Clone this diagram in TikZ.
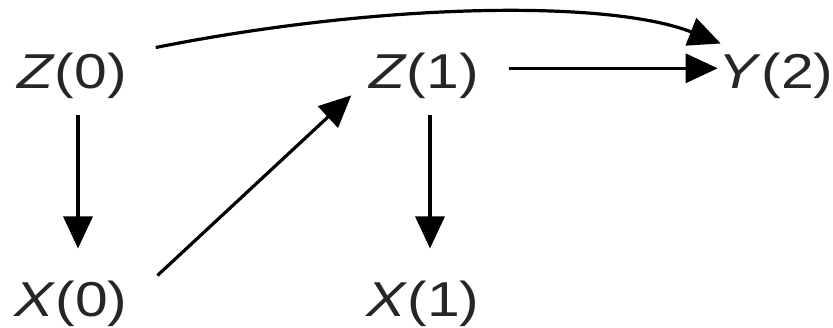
\documentclass[tikz,border=0pt]{standalone}
\usepackage{fontspec}
\newfontfamily\labfont[FakeStretch=1.2]{Liberation Sans}
\usetikzlibrary{arrows.meta,calc}
\begin{document}
\begin{tikzpicture}[x=1pt,y=-1pt,
  var/.style={inner sep=0pt,outer sep=0pt,anchor=base,font=\labfont\fontsize{49}{58}\selectfont,text=black!85},
  arr/.style={line width=3.2pt,-{Triangle[length=32pt,width=29pt]}}]
\useasboundingbox (0,0) rectangle (833,328);
\node[var] (z0) at (72,89) {\textit{Z}(0)};
\node[var] (z1) at (424,89) {\textit{Z}(1)};
\node[var] (y2) at (776,89) {\textit{Y}(2)};
\node[var] (x0) at (71,317) {\textit{X}(0)};
\node[var] (x1) at (423,317) {\textit{X}(1)};
\draw[arr] ($(z0.south)+(6,16)$) -- ($(x0.north)+(7,-33)$);
\draw[arr] ($(z1.south)+(6,16)$) -- ($(x1.north)+(7,-33)$);
\draw[arr] ($(z1.east)+(30,-8)$) -- ($(y2.west)+(-1,-8)$);
\draw[arr] ($(x0.north east)+(30,-6)$) -- ($(z1.west)+(-18,19)$);
\draw[arr] ($(z0.north east)+(29,-6)$) .. controls (385,2) and (610,0) .. ($(y2.north west)+(2,-10)$);
\end{tikzpicture}
\end{document}
